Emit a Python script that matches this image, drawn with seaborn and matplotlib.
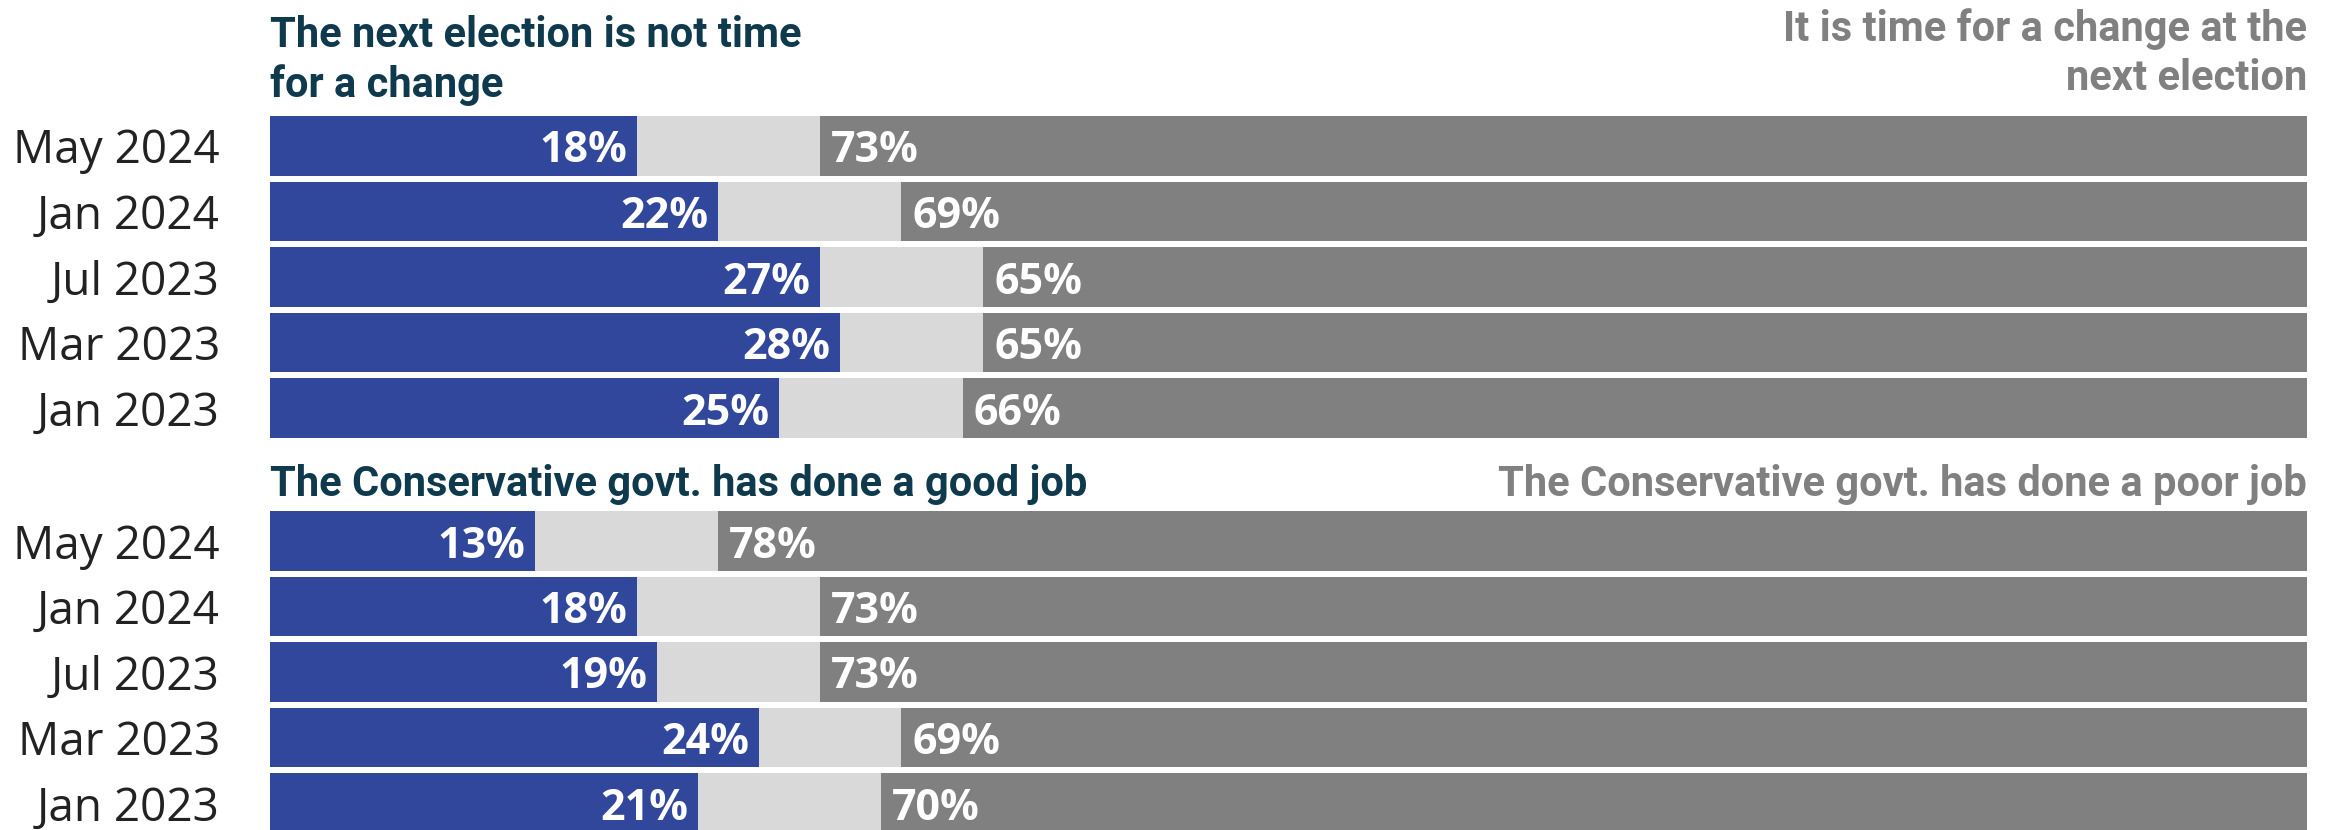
import numpy as np
import pandas as pd
import matplotlib.pyplot as plt
import seaborn as sns

dates = ['May 2024', 'Jan 2024', 'Jul 2023', 'Mar 2023', 'Jan 2023']

not_time = [18, 22, 27, 28, 25]       # next election is not time for a change
time_change = [73, 69, 65, 65, 66]    # it is time for a change

good_job = [13, 18, 19, 24, 21]
poor_job = [78, 73, 73, 69, 70]

BLUE = '#31479c'
LIGHT = '#d9d9d9'
DARK = '#808080'
HEAD = '#0f3a4d'

sns.set_theme(style='white')
plt.rcParams['font.family'] = ['Open Sans', 'DejaVu Sans']

W, H = 2335, 830
fig = plt.figure(figsize=(W / 100, H / 100), dpi=100)

left = 270 / W
width = (2307 - 270) / W
pitch = 65.5
ax_h = 5 * pitch / H


def draw(ax, pos, neg):
    df = pd.DataFrame({'date': dates, 'pos': pos, 'neg': neg})
    df['total'] = 100
    df['unsure'] = 100 - df['neg']
    for col, c in [('total', DARK), ('unsure', LIGHT), ('pos', BLUE)]:
        sns.barplot(data=df, y='date', x=col, color=c, saturation=1,
                    width=0.91, linewidth=0, ax=ax)
    for i, row in df.iterrows():
        ax.annotate(f"{row['pos']}%", (row['pos'], i), xytext=(-7, 0),
                    textcoords='offset points', ha='right', va='center_baseline',
                    color='white', fontsize=31, fontweight='bold')
        ax.annotate(f"{row['neg']}%", (100 - row['neg'], i), xytext=(8, 0),
                    textcoords='offset points', ha='left', va='center_baseline',
                    color='white', fontsize=31, fontweight='bold')
    ax.set_xlim(0, 100)
    ax.set_ylim(4.5, -0.5)
    ax.set_xlabel('')
    ax.set_ylabel('')
    ax.set_xticks([])
    ax.tick_params(axis='y', length=0, pad=36, labelsize=33, labelcolor='#222222')
    sns.despine(ax=ax, left=True, bottom=True)


ax1 = fig.add_axes([left, 1 - (113.25 + 5 * pitch) / H, width, ax_h])
draw(ax1, not_time, time_change)

ax2 = fig.add_axes([left, 1 - (508.25 + 5 * pitch) / H, width, ax_h])
draw(ax2, good_job, poor_job)

head = dict(family=['Roboto', 'DejaVu Sans'], fontweight='bold', fontsize=30)
right = 2307 / W

fig.text(left, 1 - 47 / H, 'The next election is not time', color=HEAD, va='baseline', **head)
fig.text(left, 1 - 97 / H, 'for a change', color=HEAD, va='baseline', **head)
fig.text(right, 1 - 41 / H, 'It is time for a change at the', color=DARK, ha='right', va='baseline', **head)
fig.text(right, 1 - 90 / H, 'next election', color=DARK, ha='right', va='baseline', **head)

fig.text(left, 1 - 496 / H, 'The Conservative govt. has done a good job', color=HEAD, va='baseline', **head)
fig.text(right, 1 - 496 / H, 'The Conservative govt. has done a poor job', color=DARK, ha='right', va='baseline', **head)

fig.savefig('out.png', dpi=100)
